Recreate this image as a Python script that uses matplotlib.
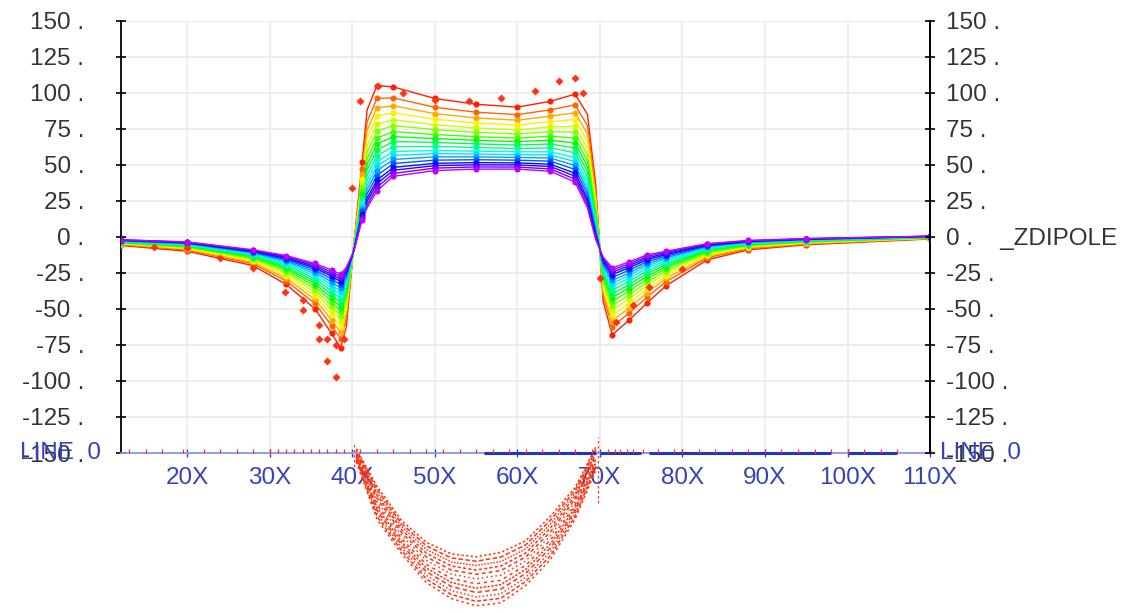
import numpy as np
import matplotlib.pyplot as plt
import matplotlib.colors as mcolors

plt.rcParams['font.family'] = ['Liberation Sans', 'DejaVu Sans']

# positions along x (units of the "X" scale)
x_pos = [12, 20, 28, 32, 35.5, 37.5, 38.6, 39.3, 40.2, 41.2, 41.8, 43, 45, 50, 55,
         60, 64, 67, 68.5, 69.5, 70.4, 71.5, 73.5, 75.7, 78, 83, 88, 95, 110]

# ZDIPOLE profile, one list per excitation step (top red -> bottom magenta)
c01 = [-6, -10, -20, -33, -50, -67, -77, -62, -5, 52, 88, 105, 104, 96, 92, 90, 94, 99, 85, 36, -45, -68, -58, -46, -34, -16, -9, -5.5, -1.5]
c02 = [-5.5, -9.2, -18.7, -30.6, -46.2, -61.6, -70.8, -57, -5.6, 47.1, 79.7, 96.1, 96.4, 89.9, 86.5, 84.8, 88.1, 91.6, 77.1, 31.4, -41.2, -62.3, -53.1, -41.9, -31.1, -14.6, -8.2, -5.0, -1.3]
c03 = [-5.2, -8.6, -17.7, -28.8, -43.4, -57.7, -66.2, -53.4, -6.1, 43.6, 73.7, 89.6, 90.9, 85.5, 82.5, 80.9, 83.8, 86.1, 71.3, 28, -38.5, -58.2, -49.5, -38.9, -28.9, -13.6, -7.6, -4.6, -1.1]
c04 = [-4.8, -8.1, -16.8, -27.2, -40.9, -54.3, -62.3, -50.2, -6.4, 40.4, 68.4, 83.9, 86.1, 81.6, 79, 77.6, 80, 81.4, 66.2, 25, -36, -54.6, -46.3, -36.3, -27.1, -12.7, -7.1, -4.3, -0.9]
c05 = [-4.5, -7.6, -16, -25.7, -38.4, -50.9, -58.3, -47, -6.8, 37.3, 63, 78.2, 81.2, 77.7, 75.5, 74.2, 76.2, 76.6, 61.1, 22.1, -33.6, -50.9, -43.1, -33.7, -25.2, -11.9, -6.6, -3.9, -0.8]
c06 = [-4.3, -7.2, -15.2, -24.3, -36.4, -48, -54.9, -44.2, -7.2, 34.7, 58.6, 73.4, 77.2, 74.4, 72.5, 71.4, 73, 72.6, 56.9, 19.5, -31.6, -47.9, -40.5, -31.5, -23.6, -11.1, -6.2, -3.6, -0.6]
c07 = [-4, -6.8, -14.5, -23, -34.3, -45, -51.5, -41.5, -7.5, 32, 54, 68.5, 73, 71, 69.5, 68.5, 69.8, 68.5, 52.5, 17, -29.5, -44.8, -37.8, -29.3, -22, -10.4, -5.8, -3.4, -0.5]
c08 = [-3.8, -6.4, -13.9, -21.9, -32.5, -42.5, -48.6, -39.2, -7.8, 29.8, 50.2, 64.4, 69.5, 68.2, 67, 66.1, 67, 65.1, 48.9, 14.9, -27.8, -42.1, -35.5, -27.4, -20.7, -9.7, -5.4, -3.1, -0.4]
c09 = [-3.6, -6, -13.3, -20.8, -30.8, -40.1, -45.8, -37, -8.1, 27.6, 46.5, 60.4, 66.1, 65.5, 64.5, 63.7, 64.4, 61.7, 45.3, 12.8, -26.1, -39.6, -33.3, -25.5, -19.3, -9.1, -5, -2.9, -0.3]
c10 = [-3.3, -5.7, -12.7, -19.7, -29, -37.7, -43, -34.7, -8.3, 25.3, 42.6, 56.3, 62.6, 62.7, 62, 61.3, 61.7, 58.3, 41.6, 10.7, -24.3, -37, -31, -23.7, -18, -8.5, -4.7, -2.6, -0.2]
c11 = [-3.1, -5.3, -12.1, -18.6, -27.3, -35.2, -40.2, -32.4, -8.6, 23.1, 38.9, 52.3, 59.2, 59.9, 59.5, 59, 59, 55, 38.1, 8.6, -22.6, -34.4, -28.8, -21.8, -16.7, -7.8, -4.3, -2.4, -0.1]
c12 = [-2.9, -5, -11.6, -17.7, -25.8, -33.3, -37.9, -30.6, -8.8, 21.3, 35.8, 49, 56.5, 57.7, 57.5, 57, 56.8, 52.2, 35.1, 6.9, -21.2, -32.3, -26.9, -20.3, -15.6, -7.3, -4, -2.2, 0]
c13 = [-2.8, -4.7, -11.1, -16.8, -24.5, -31.3, -35.6, -28.8, -9.1, 19.6, 32.9, 45.8, 53.7, 55.5, 55.5, 55.1, 54.7, 49.5, 32.3, 5.2, -19.9, -30.3, -25.2, -18.8, -14.5, -6.8, -3.7, -2.0, 0.1]
c14 = [-2.6, -4.4, -10.6, -15.9, -23, -29.3, -33.3, -26.9, -9.3, 17.8, 29.8, 42.5, 50.9, 53.2, 53.5, 53.2, 52.5, 46.8, 29.4, 3.5, -18.5, -28.2, -23.3, -17.3, -13.5, -6.3, -3.4, -1.8, 0.2]
c15 = [-2.4, -4.2, -10.1, -15, -21.7, -27.4, -31.1, -25.1, -9.5, 16, 26.8, 39.3, 48.2, 51, 51.5, 51.3, 50.4, 44.1, 26.5, 1.8, -17.1, -26.2, -21.6, -15.9, -12.4, -5.8, -3.2, -1.6, 0.3]
c16 = [-2.3, -3.9, -9.7, -14.3, -20.6, -26, -29.4, -23.8, -9.7, 14.7, 24.6, 36.9, 46.2, 49.4, 50, 49.9, 48.8, 42.1, 24.4, 0.5, -16.1, -24.6, -20.2, -14.7, -11.6, -5.5, -2.9, -1.5, 0.4]
c17 = [-2.1, -3.7, -9.4, -13.7, -19.5, -24.5, -27.7, -22.4, -9.8, 13.3, 22.2, 34.4, 44, 47.7, 48.5, 48.4, 47.1, 40, 22.1, -0.7, -15, -23, -18.8, -13.6, -10.8, -5.1, -2.7, -1.3, 0.4]
c18 = [-2, -3.5, -9, -13, -18.5, -23, -26, -21, -10, 12, 20, 32, 42, 46, 47, 47, 45.5, 38, 20, -2, -14, -21.5, -17.5, -12.5, -10, -4.7, -2.5, -1.2, 0.5]
curves = [c01, c02, c03, c04, c05, c06, c07, c08, c09, c10, c11, c12, c13, c14, c15, c16, c17, c18]

# columns that carry a measured point
dot_cols = [0, 1, 2, 3, 4, 5, 6, 9, 11, 12, 13, 14, 15, 16, 17, 21, 22, 23, 24, 25, 26, 27, 28]

# red measured points off the top curve
red_dot_x = [16, 20, 24, 28, 31.9, 34, 34, 36, 36, 37, 37, 38, 38, 39, 40, 41, 43.1, 46.2, 50, 54.1,
             58, 62.1, 65, 67, 68, 70, 72, 74, 76, 80]
red_dot_y = [-7, -8, -15, -21.5, -38, -44, -51, -61, -71, -71, -86, -97, -75, -71, 34, 94, 105, 100, 95, 94,
             96, 101, 108, 110, 100, -28.5, -59, -47, -35, -22]

# dashed "bowl" traces hanging under the axis
bowl_x = [40.5, 43, 46, 49, 52, 55, 58, 61, 64, 67, 69.5]
s1 = [-156, -196, -220, -240, -251, -256, -254, -242, -224, -196, -162]
s2 = [-155.2, -193.9, -217.9, -237.5, -248.2, -252.9, -250.8, -239.2, -221.3, -194, -160.6]
s3 = [-154.4, -191.9, -215.9, -235, -245.4, -249.9, -247.7, -236.4, -218.6, -192, -159.1]
s4 = [-153.6, -189.8, -213.8, -232.4, -242.6, -246.8, -244.5, -233.6, -215.9, -190.1, -157.7]
s5 = [-152.8, -187.7, -211.7, -229.9, -239.8, -243.8, -241.4, -230.8, -213.2, -188.1, -156.2]
s6 = [-152, -185.6, -209.6, -227.4, -237, -240.7, -238.3, -228, -210.5, -186.1, -154.8]
s7 = [-151, -183.4, -207.4, -224.6, -234, -237.3, -234.8, -225, -207.5, -183.9, -153.2]
s8 = [-150.2, -181.3, -205.3, -222.1, -231.2, -234.2, -231.6, -222.2, -204.8, -181.9, -151.8]
s9 = [-149.4, -179.2, -203.2, -219.6, -228.4, -231.2, -228.5, -219.4, -202.1, -179.9, -150.3]
s10 = [-148.6, -177.1, -201.1, -217, -225.6, -228.1, -225.3, -216.6, -199.4, -178, -148.9]
s11 = [-147.8, -175.1, -199.1, -214.5, -222.8, -225.1, -222.2, -213.8, -196.7, -176, -147.4]
s12 = [-147, -173, -197, -212, -220, -222, -219, -211, -194, -174, -146]
bowl = [s1, s2, s3, s4, s5, s6, s7, s8, s9, s10, s11, s12]
spike_x = [40.2, 69.8]
spike_lo = [-160, -185]
spike_hi = [-143, -139]

red_tick_x = [13, 15, 17, 19.5, 22, 24, 26, 28, 30, 31, 32, 33, 34, 35, 36, 37, 38, 39, 41, 43, 45,
              47, 49, 51, 53, 55, 57, 59, 61, 63, 65, 67, 69, 71, 71.8, 72.5, 73.3, 74, 75.2, 77,
              79, 80, 82, 84, 86, 88, 90, 92, 94, 96, 98, 100, 102, 104, 106, 110]
blue_seg_start = [56, 70, 76, 100]
blue_seg_end = [69.5, 75, 98, 106]

x_ticks = [20, 30, 40, 50, 60, 70, 80, 90, 100, 110]
x_tick_text = ['20X', '30X', '40X', '50X', '60X', '70X', '80X', '90X', '100X', '110X']
y_ticks = [-150, -125, -100, -75, -50, -25, 0, 25, 50, 75, 100, 125, 150]
y_tick_text = ['-150 .', '-125 .', '-100 .', '-75 .', '-50 .', '-25 .', '0 .',
               '25 .', '50 .', '75 .', '100 .', '125 .', '150 .']
y_tick_text_r = ['-150 .', '-125 .', '-100 .', '-75 .', '-50 .', '-25 .', '0 .    _ZDIPOLE',
                 '25 .', '50 .', '75 .', '100 .', '125 .', '150 .']

ink = '#333333'
blue = '#3444b8'
red = '#ff3311'
fs = 17.5

fig = plt.figure(figsize=(11.26, 6.13), dpi=100)
ax = fig.add_axes([0.1075, 0.261, 0.7185, 0.7053])
ax.set_xlim(12, 110)
ax.set_ylim(-150, 150)

ax.grid(color='#ececec', lw=1.3)
ax.set_axisbelow(True)

hues = np.linspace(0.02, 0.79, len(curves))
colors = [mcolors.hsv_to_rgb((h, 1.0, 1.0)) for h in hues]

xp = np.array(x_pos)
for vals, col in zip(curves, colors):
    v = np.array(vals)
    ax.plot(xp, v, color=col, lw=1.0, zorder=3)
    ax.plot(xp[dot_cols], v[dot_cols], 'o', color=col, ms=4.4, mec='none', zorder=4)

ax.plot(red_dot_x, red_dot_y, 'D', color=red, ms=4.2, mec='none', zorder=5)

# traces under the bottom line
dash_styles = [(0, (1.5, 2)), (0, (2.5, 1.5)), (0, (1, 1.5)), (0, (3, 2)),
               (0, (1.5, 1)), (0, (2, 2.5)), (0, (1, 2)), (0, (2.5, 2)),
               (1, (2, 1.5)), (0, (1, 1)), (2, (3, 1.5)), (0, (1.5, 1.5))]
for s, ds in zip(bowl, dash_styles):
    ax.plot(bowl_x, s, color=red, lw=1.1, ls=ds, clip_on=False, zorder=2)
ax.vlines(spike_x, spike_lo, spike_hi, color=red, lw=0.9, linestyles=[(0, (2, 2))], clip_on=False)

ax.vlines(red_tick_x, -150, -147.5, color=red, lw=0.9, clip_on=False, zorder=6)

# bottom reference line
ax.axhline(-150, color='#8a97e8', lw=1.3, clip_on=False, zorder=5)
ax.hlines([-150] * len(blue_seg_start), blue_seg_start, blue_seg_end,
          color='#2233c8', lw=2.2, clip_on=False, zorder=5)

for side in ['top', 'bottom']:
    ax.spines[side].set_visible(False)
for side in ['left', 'right']:
    ax.spines[side].set_color('black')
    ax.spines[side].set_linewidth(1.3)

ax.set_xticks(x_ticks)
ax.set_xticklabels(x_tick_text)
ax.tick_params(axis='x', direction='inout', length=6, width=1, color=blue,
               labelcolor=blue, labelsize=fs, pad=7)

ax.set_yticks(y_ticks)
ax.set_yticklabels(y_tick_text)
ax.tick_params(axis='y', direction='inout', length=7, width=1.2, color='black',
               labelcolor=ink, labelsize=fs, pad=23)

ax2 = ax.twinx()
ax2.set_ylim(-150, 150)
ax2.set_yticks(y_ticks)
ax2.set_yticklabels(y_tick_text_r)
for side in ['top', 'bottom', 'left']:
    ax2.spines[side].set_visible(False)
ax2.spines['right'].set_linewidth(1.3)
ax2.tick_params(axis='y', direction='inout', length=7, width=1.2, color='black',
                labelcolor=ink, labelsize=fs, pad=8)

fig.text(20 / 1126, 0.261, 'LINE  0', color=blue, fontsize=fs, va='center', ha='left')
fig.text(940 / 1126, 0.261, 'LINE  0', color=blue, fontsize=fs, va='center', ha='left')

fig.savefig('out.png', dpi=100)
